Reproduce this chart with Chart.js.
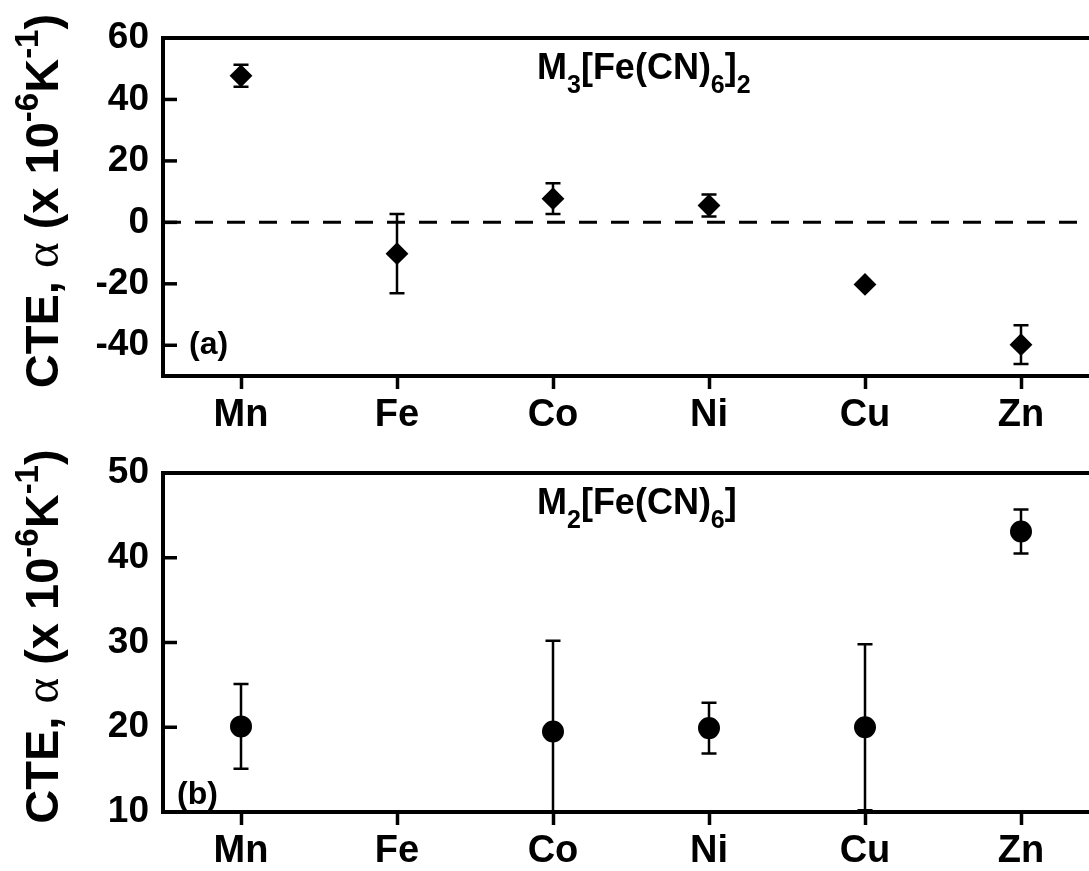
<!DOCTYPE html>
<html>
<head>
<meta charset="utf-8">
<script src="https://cdn.jsdelivr.net/npm/chart.js@4"></script>
<style>
  body { margin: 0; overflow: hidden; background: #fff; }
  .panel { position: absolute; left: 0; }
</style>
</head>
<body>
<canvas id="chartA" class="panel" width="1120" height="435" style="top:0px"></canvas>
<canvas id="chartB" class="panel" width="1120" height="436" style="top:435px"></canvas>
<script>
// metals on the x axis
const metals = ['Mn', 'Fe', 'Co', 'Ni', 'Cu', 'Zn'];

// (a) M3[Fe(CN)6]2
const cteA = [47.7, -10.2, 7.7, 5.5, -20.2, -39.8];
const errA = [3.6, 12.9, 5.0, 3.6, 0, 6.3];
const ticksA = [-40, -20, 0, 20, 40, 60];

// (b) M2[Fe(CN)6]  (no Fe point)
const cteB = [20.1, null, 19.5, 19.9, 20.0, 43.1];
const errB = [5.0, null, 10.7, 3.0, 9.8, 2.6];
const ticksB = [10, 20, 30, 40, 50];

const FONT = '"Liberation Sans", Arial, sans-serif';

// text pieces: 0 normal, 1 subscript, 2 superscript, 3 greek
const titleA = [['M', 0], ['3', 1], ['[Fe(CN)', 0], ['6', 1], [']', 0], ['2', 1]];
const titleB = [['M', 0], ['2', 1], ['[Fe(CN)', 0], ['6', 1], [']', 0]];
const yTitle = [['CTE, ', 0], ['\u03b1', 3], [' (x 10', 0], ['-6', 2], ['K', 0], ['-1', 2], [')', 0]];

function pieceFont(kind, size)
{
    if (kind === 1 || kind === 2) return 'bold ' + Math.round(size * 0.7) + 'px ' + FONT;
    if (kind === 3) return Math.round(size * 1.05) + 'px "Liberation Serif", serif';
    return 'bold ' + size + 'px ' + FONT;
}

function pieceShift(kind, size)
{
    if (kind === 1) return size * 0.4;
    if (kind === 2) return -size * 0.42;
    return 0;
}

function richWidth(ctx, parts, size)
{
    let w = 0;
    parts.forEach(function (p) {
        ctx.font = pieceFont(p[1], size);
        w += ctx.measureText(p[0]).width;
    });
    return w;
}

function drawRich(ctx, parts, x, y, size)
{
    ctx.textBaseline = 'alphabetic';
    ctx.textAlign = 'left';
    parts.forEach(function (p) {
        ctx.font = pieceFont(p[1], size);
        ctx.fillText(p[0], x, y + pieceShift(p[1], size));
        x += ctx.measureText(p[0]).width;
    });
}

// frame, inward y ticks, zero line, error bars, labels
function panelPlugin(errors, title, tag, tagX, tagValue, zeroLine)
{
    return {
        id: 'panelDeco',
        beforeDatasetsDraw: function (chart) {
            const ctx = chart.ctx;
            const a = chart.chartArea;
            const xs = chart.scales.x;
            const ys = chart.scales.y;
            const vals = chart.data.datasets[0].data;
            ctx.save();
            ctx.beginPath();
            ctx.rect(a.left, a.top, a.right - a.left, a.bottom - a.top);
            ctx.clip();
            ctx.strokeStyle = '#000';
            if (zeroLine) {
                ctx.lineWidth = 3;
                ctx.setLineDash([18, 14]);
                const y0 = ys.getPixelForValue(0);
                ctx.beginPath();
                ctx.moveTo(a.left, y0);
                ctx.lineTo(a.right, y0);
                ctx.stroke();
                ctx.setLineDash([]);
            }
            ctx.lineWidth = 2.5;
            vals.forEach(function (v, i) {
                if (v === null || !errors[i]) return;
                const x = xs.getPixelForValue(i);
                const yt = ys.getPixelForValue(v + errors[i]);
                const yb = ys.getPixelForValue(v - errors[i]);
                ctx.beginPath();
                ctx.moveTo(x, yt); ctx.lineTo(x, yb);
                ctx.moveTo(x - 7.5, yt); ctx.lineTo(x + 7.5, yt);
                ctx.moveTo(x - 7.5, yb); ctx.lineTo(x + 7.5, yb);
                ctx.stroke();
            });
            ctx.restore();
        },
        afterDraw: function (chart) {
            const ctx = chart.ctx;
            const a = chart.chartArea;
            const ys = chart.scales.y;
            ctx.save();
            ctx.strokeStyle = '#000';
            ctx.fillStyle = '#000';
            ctx.lineWidth = 4;
            ctx.strokeRect(a.left, a.top, a.right - a.left, a.bottom - a.top);
            ctx.lineWidth = 3.5;
            ys.ticks.forEach(function (t) {
                if (t.value === ys.min || t.value === ys.max) return;
                const y = ys.getPixelForValue(t.value);
                ctx.beginPath();
                ctx.moveTo(a.left, y);
                ctx.lineTo(a.left + 14, y);
                ctx.stroke();
            });
            // compound label
            drawRich(ctx, title, 537, a.top + 41, 36);
            // panel tag
            ctx.font = 'bold 32px ' + FONT;
            ctx.textBaseline = 'middle';
            ctx.textAlign = 'left';
            ctx.fillText(tag, tagX, ys.getPixelForValue(tagValue));
            // y axis title, rotated
            const size = 47;
            const w = richWidth(ctx, yTitle, size);
            ctx.translate(58, (a.top + a.bottom) / 2 - 6);
            ctx.rotate(-Math.PI / 2);
            drawRich(ctx, yTitle, -w / 2, 0, size);
            ctx.restore();
        }
    };
}

function makeChart(id, values, errors, tickList, lo, hi, marker, title, tag, tagX, tagValue, zeroLine)
{
    return new Chart(document.getElementById(id), {
        type: 'line',
        data: {
            labels: metals,
            datasets: [{
                data: values,
                showLine: false,
                pointStyle: marker,
                pointRadius: 10,
                pointHoverRadius: 10,
                pointBackgroundColor: '#000',
                pointBorderColor: '#000',
                pointBorderWidth: 2
            }]
        },
        options: {
            responsive: false,
            animation: false,
            events: [],
            layout: { padding: { top: 38, right: 21, left: 0, bottom: 0 } },
            plugins: { legend: { display: false }, tooltip: { enabled: false } },
            scales: {
                x: {
                    offset: true,
                    afterFit: function (s) { s.height = 59; },
                    border: { display: false },
                    grid: { drawOnChartArea: false, tickLength: 13, tickWidth: 3.5, color: '#000' },
                    ticks: { color: '#000', padding: 4, font: { family: FONT, size: 38, weight: 'bold' } }
                },
                y: {
                    min: lo,
                    max: hi,
                    afterFit: function (s) { s.width = 163; },
                    afterBuildTicks: function (s) { s.ticks = tickList.map(function (v) { return { value: v }; }); },
                    border: { display: false },
                    grid: { display: false, drawTicks: false },
                    ticks: { color: '#000', padding: 14, font: { family: FONT, size: 37, weight: 'bold' } }
                }
            }
        },
        plugins: [panelPlugin(errors, title, tag, tagX, tagValue, zeroLine)]
    });
}

makeChart('chartA', cteA, errA, ticksA, -50, 60, 'rectRot', titleA, '(a)', 189, -40, true);
makeChart('chartB', cteB, errB, ticksB, 10, 50, 'circle', titleB, '(b)', 177, 12, false);
</script>
</body>
</html>
